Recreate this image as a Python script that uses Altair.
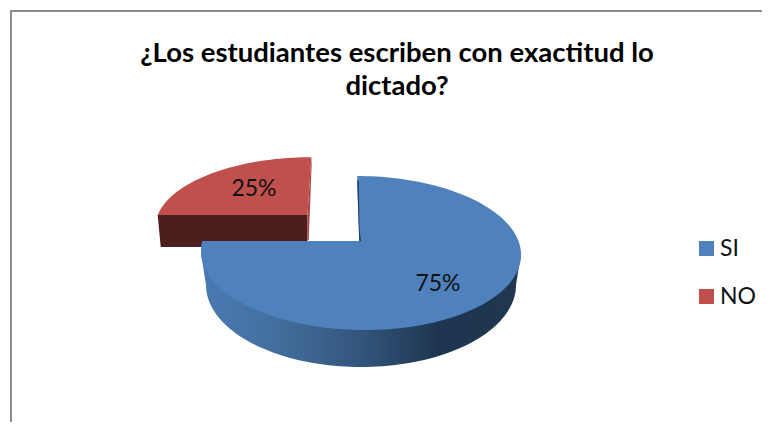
import math
import altair as alt

# ---- chart values ----
TITLE_LINES = ["¿Los estudiantes escriben con exactitud lo", "dictado?"]
CATEGORIES = ["SI", "NO"]
VALUES = [75, 25]
LABELS = ["75%", "25%"]
COLORS = ["#4f81bd", "#c0504d"]

W, H = 754, 414
PAGE = 8   # chart origin inside the page

# ---- tilted-pie geometry (ellipse with a perspective shift of the centre) ----
CX, CY, RX, RY = 361 - PAGE, 253 - PAGE, 160, 77
K = 0.156
TILT = 0.05
DEPTH_Y, BOTTOM_RX, BOTTOM_RY = 32, 155, 82


def project(theta, r=1.0):
    """Turn a clockwise angle from 12 o'clock into a point of the tilted disc."""
    u, v = r * math.sin(theta), r * math.cos(theta)
    d = 1 + K * v
    y = RY * (v + K) / d
    return (CX + RX * u * math.sqrt(1 - K * K) / d - TILT * y, CY - y)


total = sum(VALUES)
spans = []
acc = 0.0
for v in VALUES:
    spans.append((acc * 2 * math.pi / total, (acc + v) * 2 * math.pi / total))
    acc += v


def arc(a0, a1, step=math.radians(2)):
    n = max(2, int(abs(a1 - a0) / step))
    return [project(a0 + (a1 - a0) * i / n) for i in range(n + 1)]


APEX = (project(0, 0)[0] - 1.2, project(0, 0)[1])

# the detached slice is drawn further back, so it is a bit smaller and sheared
SLICE_APEX = (307.5 - PAGE, 215 - PAGE)
SCALE_X, SCALE_Y, SHEAR = 0.955, 0.89, -0.1


def detach(p):
    dx, dy = p[0] - APEX[0], p[1] - APEX[1]
    return (SLICE_APEX[0] + SCALE_X * dx + SHEAR * SCALE_Y * dy,
            SLICE_APEX[1] + SCALE_Y * dy)


def feature(points, **props):
    pts = [list(p) for p in points]
    if pts[0] != pts[-1]:
        pts.append(pts[0])
    return {"type": "Feature", "properties": props,
            "geometry": {"type": "Polygon", "coordinates": [pts]}}


blue_face = [APEX] + arc(*spans[0])
red_face = [SLICE_APEX] + [detach(p) for p in arc(*spans[1])]

# body of the big slice: extreme points of the top ellipse + lower half of the base
base_cy = CY + DEPTH_Y
base = [(CX + BOTTOM_RX * math.cos(a), base_cy + BOTTOM_RY * math.sin(a))
        for a in [math.radians(d) for d in range(0, 181, 2)]]
blue_wall = [(CX + RX, CY)] + base + [(CX - RX, CY)]

# front wall of the detached slice
rl, ra = detach(project(spans[1][0])), SLICE_APEX
red_wall = [rl, ra, (ra[0], ra[1] + DEPTH_Y), (rl[0] + 3, rl[1] + DEPTH_Y)]
rt = detach(project(spans[1][1]))
red_inner = [rt, ra, (ra[0], ra[1] + 25), (ra[0] + 1.2, ra[1] + 25), (rt[0] + 0.3, rt[1] + 8)]

bt = project(spans[0][0])
blue_inner = [(bt[0], bt[1] + 4), (APEX[0], APEX[1]), (APEX[0] + 1.8, APEX[1]), (APEX[0] + 0.4, APEX[1] - 10), (bt[0] + 1.5, bt[1] + 5)]

proj = alt.Projection(type="identity", scale=1, translate=[0, 0])


def shape(points, fill):
    return alt.Chart(alt.Data(values=[feature(points)])).mark_geoshape(
        fill=fill, stroke=None, strokeWidth=0
    ).project(**proj.to_dict())


wall_gradient = alt.LinearGradient(
    gradient="linear", x1=0, x2=1, y1=0, y2=0,
    stops=[
        alt.GradientStop(offset=0.0, color="#4a7ab3"),
        alt.GradientStop(offset=0.22, color="#44709f"),
        alt.GradientStop(offset=0.5, color="#33557c"),
        alt.GradientStop(offset=0.74, color="#1e3550"),
        alt.GradientStop(offset=1.0, color="#20374f"),
    ],
)

faces = alt.Chart(alt.Data(values=[
    feature(blue_face, category=CATEGORIES[0]),
    feature(red_face, category=CATEGORIES[1]),
])).mark_geoshape(strokeWidth=0, stroke=None).encode(
    color=alt.Color(
        "properties.category:N",
        scale=alt.Scale(domain=CATEGORIES, range=COLORS),
        legend=alt.Legend(
            title=None, orient="none", legendX=687, legendY=229,
            symbolType="square", symbolSize=225, symbolStrokeWidth=0,
            labelFont="Lato", labelFontSize=23, labelColor="#111111",
            labelOffset=2, rowPadding=24,
        ),
    )
).project(**proj.to_dict())

label_x = [438 - PAGE, 254 - PAGE]
label_y = [284 - PAGE, 189 - PAGE]
labels = alt.Chart(alt.Data(values=[
    {"t": t, "x": x, "y": y} for t, x, y in zip(LABELS, label_x, label_y)
])).mark_text(font="Lato", fontSize=23, color="#111111", baseline="middle", align="center").encode(
    x=alt.X("x:Q", scale=None), y=alt.Y("y:Q", scale=None), text="t:N"
)

frame_left = alt.Chart(alt.Data(values=[{"a": 1}])).mark_rule(color="#8c8c8c", strokeWidth=2).encode(
    x=alt.value(3), y=alt.value(3), y2=alt.value(H)
)
frame_top = alt.Chart(alt.Data(values=[{"a": 1}])).mark_rule(color="#8c8c8c", strokeWidth=2).encode(
    x=alt.value(2), x2=alt.value(W), y=alt.value(3)
)

chart = alt.layer(
    frame_left, frame_top,
    shape(red_wall, "#4c1f1e"),
    shape(blue_wall, wall_gradient),
    shape(red_inner, "#a34543"),
    faces,
    shape(blue_inner, "#1f3a5c"),
    labels,
).properties(
    width=W, height=H, padding=0, autosize="none",
    title=alt.TitleParams(
        text=TITLE_LINES, anchor="start", frame="group", align="center",
        dx=397 - PAGE, dy=110, baseline="middle",
        font="Lato", fontSize=27.5, fontWeight="bold", color="#000000", lineHeight=33,
    ),
).configure_view(stroke=None)

chart.save("out.html", embed_options={"renderer": "svg", "actions": False})
